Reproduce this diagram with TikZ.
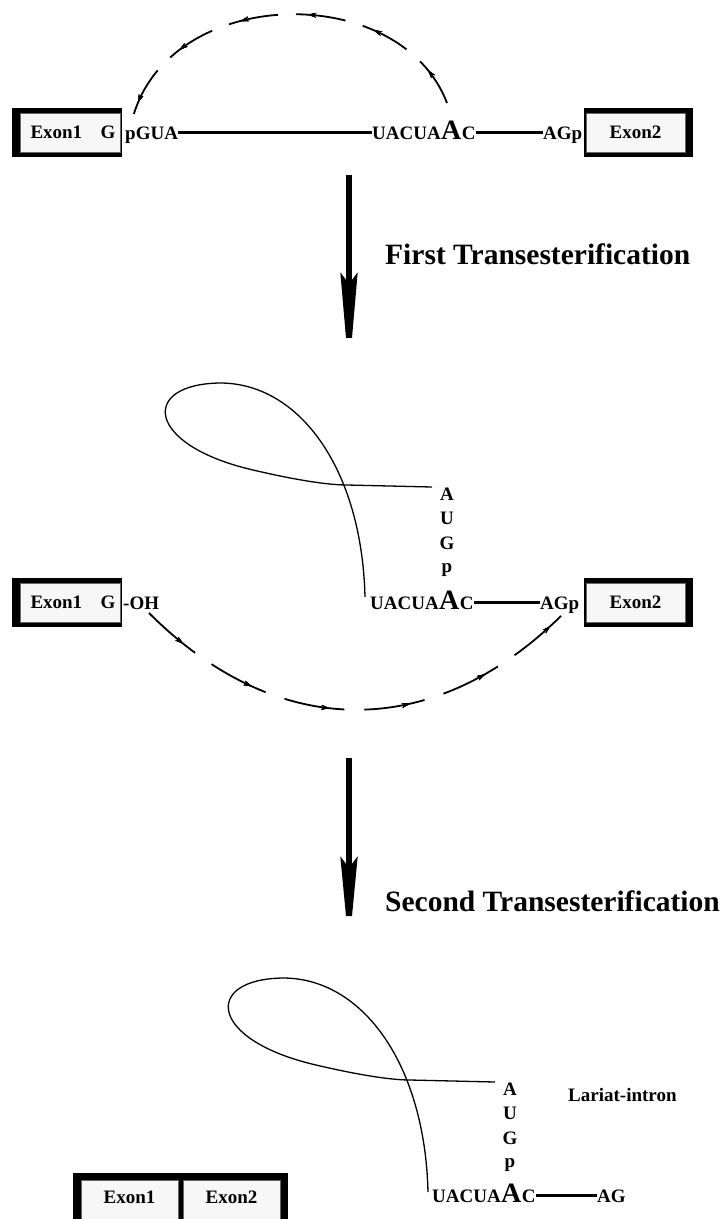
\documentclass[tikz,border=0pt]{standalone}
\usepackage{fontspec}
\setmainfont{Liberation Serif}
\usetikzlibrary{arrows.meta,decorations.markings}
\newcommand\bfsize[1]{\fontsize{#1}{#1}\selectfont\bfseries}

\tikzset{
  boxframe/.style={fill=black, inner sep=0pt},
  exonbox/.style={fill=black!3, draw=black!60, line width=0.5pt, inner sep=0pt,
                  text height=12.6pt, text depth=0pt, font=\bfsize{19}},
  seq/.style={anchor=base west, inner sep=0pt, text height=12.6pt, text depth=0pt, font=\bfsize{19}},
  bigbase/.style={seq, font=\bfsize{28}},
  stemletter/.style={anchor=base, inner sep=0pt, font=\bfsize{19}},
  heading/.style={anchor=base west, inner sep=0pt, font=\bfsize{29.5}},
  bond/.style={line width=2.8pt},
  strand/.style={line width=1.3pt},
  transfer/.style={line width=1.8pt, dash pattern=#1},
  bigarrow/.style={line width=6pt, -{Stealth[length=#1, width=17pt, inset=11pt]}},
  tick/.style={decoration={markings, mark=at position #1 with {\arrow{Stealth[length=8pt,width=4.5pt]}}}, postaction=decorate},
  lariat/.pic={
    \draw[strand] (365,597) .. controls (362,470) and (300,383) .. (220,383)
        .. controls (140,384) and (145,445) .. (253,470)
        .. controls (300,481) and (330,485) .. (347,485) -- (432,487);
    \node[stemletter] (-a) at (447,500) {A};
    \node[stemletter] (-u) at (447,524) {U};
    \node[stemletter] (-g) at (447,549) {G};
    \node[stemletter] (-p) at (447,572) {p};
  }
}

\begin{document}
\begin{tikzpicture}[x=1pt, y=-1pt]
\fill[white] (0,0) rectangle (723,1219);
\useasboundingbox (0,0) rectangle (723,1219);

% ---------- pre-mRNA ----------
\node[boxframe, minimum width=110pt, minimum height=49pt] (f1) at (67,132.5) {};
\node[exonbox, minimum width=100pt, minimum height=39pt] (e1) at (70,132.5)
  {\makebox[91pt][s]{\hspace{6pt}Exon1\hfill G}};
\node[seq] (t1p) at (125,139) {pGUA};
\node[seq] (t1u) at (372,139) {UACUA};
\node[bigbase] (t1A) at (t1u.base east) {A};
\node[seq] (t1c) at (t1A.base east) {C};
\node[seq] (t1ag) at (543,139) {AGp};
\node[boxframe, minimum width=109pt, minimum height=49pt] (f2) at (638.5,132.5) {};
\node[exonbox, minimum width=99pt, minimum height=39pt] (e2) at (635.5,132.5) {Exon2};
\draw[bond] (t1p.east) -- (t1u.west);
\draw[bond] (t1c.east) -- (t1ag.west);

% branch-point attack on the 5' splice site
\coordinate (topS) at (447,103);
\coordinate (topE) at (133,117);
\draw[transfer={on 50pt off 18pt},
      tick=38pt, tick=106pt, tick=174pt, tick=242pt, tick=310pt, tick=378pt]
  (topS) .. controls (400,-20) and (170,-15) .. (topE);

% first step
\coordinate (a1s) at (349,175);
\coordinate (a1e) at (349,373);
\draw[bigarrow=100pt] (a1s) -- (a1e);
\node[heading] (h1) at (385,264) {First Transesterification};

% ---------- lariat intermediate ----------
\pic (mid) at (0,0) {lariat};
\node[boxframe, minimum width=110pt, minimum height=49pt] (f3) at (67,602.5) {};
\node[exonbox, minimum width=100pt, minimum height=39pt] (e3) at (70,602.5)
  {\makebox[91pt][s]{\hspace{6pt}Exon1\hfill G}};
\node[seq] (t2oh) at (123,609) {-OH};
\node[seq] (t2u) at (370,609) {UACUA};
\node[bigbase] (t2A) at (t2u.base east) {A};
\node[seq] (t2c) at (t2A.base east) {C};
\node[seq] (t2ag) at (540,609) {AGp};
\node[boxframe, minimum width=109pt, minimum height=49pt] (f4) at (638.5,602.5) {};
\node[exonbox, minimum width=99pt, minimum height=39pt] (e4) at (635.5,602.5) {Exon2};
\draw[bond] (t2c.east) -- (t2ag.west);

% 3'-OH attack on the 3' splice site
\coordinate (lowS) at (149,613);
\coordinate (lowE) at (564,613);
\draw[transfer={on 61pt off 20pt},
      tick=46pt, tick=127pt, tick=208pt, tick=289pt, tick=370pt, tick=451pt]
  (lowS) .. controls (278,742) and (435,742) .. (lowE);

% second step
\coordinate (a2s) at (349,758);
\coordinate (a2e) at (349,948);
\draw[bigarrow=91pt] (a2s) -- (a2e);
\node[heading] (h2) at (385,911) {Second Transesterification};

% ---------- products ----------
\pic (low) at (63,595) {lariat};
\node[seq] (lab) at (568,1101) {Lariat-intron};
\node[seq] (t3u) at (432,1202) {UACUA};
\node[bigbase] (t3A) at (t3u.base east) {A};
\node[seq] (t3c) at (t3A.base east) {C};
\node[seq] (t3ag) at (597,1202) {AG};
\draw[bond] (t3c.east) -- (t3ag.west);

\node[boxframe, minimum width=215pt, minimum height=52pt] (f5) at (180.5,1199) {};
\node[exonbox, minimum width=97pt, minimum height=45pt, text depth=11.6pt] (e5) at (129.5,1202.5) {Exon1};
\node[exonbox, minimum width=97pt, minimum height=45pt, text depth=11.6pt] (e6) at (231.5,1202.5) {Exon2};
\end{tikzpicture}
\end{document}
